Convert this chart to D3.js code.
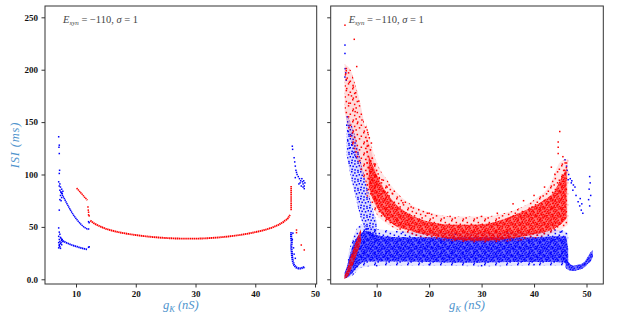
<!DOCTYPE html>
<html>
  <head>
    <meta charset="utf-8">
    <title>ISI vs gK</title>
    <script src="https://d3js.org/d3.v7.min.js"></script>
    <style>
      body { margin: 0; background: white; }
      svg { display: block; }
      .tick text { font-family: "Liberation Serif", serif; font-weight: bold; font-size: 9px; fill: #111; }
      .axisLabel { font-family: "Liberation Serif", serif; font-style: italic; font-size: 12.5px; fill: #4f94cd; }
      .note { font-family: "Liberation Serif", serif; font-size: 10.5px; fill: #444; }
    </style>
  </head>
  <body>
    <svg id="chart" width="620" height="323"></svg>
    <script>
      // ---- data ----
      const xTicks = [10, 20, 30, 40, 50];
      const yTicks = [0, 50, 100, 150, 200, 250];
      const yTickLabels = ["0.0", "50", "100", "150", "200", "250"];
      const noteText = ["E", "syn", " = \u2212110, ", "\u03c3", " = 1"];

      // left panel: curves [gK, ISI]
      const leftBlueUpper = [[7.4, 84], [7.9, 78.5], [8.5, 72], [9, 66.8], [9.5, 62], [10, 58], [10.5, 54.5], [11, 51.5], [11.5, 49.2], [12, 47.5]];
      const leftBlueLower = [[7.5, 38], [8, 36], [8.5, 34.6], [9, 33.4], [9.5, 32.3], [10, 31.4], [10.5, 30.5], [11, 29.7], [11.5, 29], [11.9, 28.4]];
      const leftRedShort = [[10.1, 87], [10.5, 84.5], [11, 81.3], [11.5, 78], [11.9, 75.5]];
      const leftRedMain = [[12.4, 56], [13, 53.5], [14, 50.5], [15, 48.2], [16, 46.5], [18, 44], [20, 42.2], [22, 40.8], [24, 39.8], [26, 39.1], [28, 38.8], [30, 38.8], [32, 39.2], [34, 40], [36, 41.2], [38, 42.8], [40, 45], [42, 47.8], [43, 49.8], [44, 52.3], [45, 56], [45.5, 58.5], [45.8, 61.5]];
      const leftRedVertical = [[46.0, 66], [46.0, 89]];
      const leftBlueDrop = [[46.0, 45], [46.0, 40], [46.1, 35], [46.0, 31], [46.1, 27], [46.15, 22], [46.3, 17], [46.5, 13.5], [46.8, 11.5], [47.2, 10.5], [47.6, 10.5], [48, 11], [48.3, 12]];
      // left panel: loose points
      const leftBluePoints = [[7.1, 136], [7.2, 128], [7.15, 126], [7.2, 120], [7.25, 104], [7.2, 101], [7.1, 93], [7.3, 91], [7.2, 89], [7.4, 88], [7.3, 85], [7.6, 86], [7.5, 83], [7.7, 82], [7.4, 80], [7.8, 84], [7.6, 78], [7.3, 76], [7.5, 75], [7.2, 66], [7.1, 49], [7.2, 45], [7.3, 43], [7.1, 41], [7.4, 40], [7.2, 38], [7.5, 39], [7.3, 36], [7.6, 37], [7.1, 35], [7.4, 34], [7.2, 33], [7.5, 35], [7.3, 31], [7.1, 30], [7.7, 38], [7.8, 36], [7.6, 33], [7.4, 29.5], [7.2, 32], [12.1, 48], [12.1, 55], [12.2, 54], [12.1, 30.5], [12.2, 31],
        [46.2, 127], [46.25, 124], [46.5, 116], [46.6, 112], [46.7, 108], [46.8, 104], [46.9, 102], [47.0, 100], [47.2, 98], [47.4, 96], [47.5, 92], [47.6, 94], [47.8, 96], [47.9, 93], [48.0, 91], [48.1, 94], [48.2, 89], [48.3, 92], [48.0, 88], [48.2, 86.5], [47.7, 89], [47.3, 91], [46.7, 97], [46.3, 44], [46.2, 38], [46.4, 30], [46.5, 24], [46.7, 20]];
      const leftRedPoints = [[12.0, 69], [12.05, 66], [12.1, 64], [12.1, 61.5], [12.2, 60.5], [46.9, 47], [46.9, 44.5], [47.7, 32.7], [48.2, 28]];

      // right panel: clouds as x with lower / upper edge
      const blueHaloX = [4.5, 5.5, 7, 10, 20, 30, 40, 45, 46.5];
      const blueHaloLo = [1, 4, 11, 13, 13, 12.5, 13, 13, 14];
      const blueHaloHi = [22, 40, 52, 48, 45, 45, 45, 47, 44];
      const blueBandX = [3.9, 4.5, 5.0, 5.5, 6.0, 7.0, 8.0, 10, 15, 20, 25, 30, 35, 40, 44, 46.0, 46.5];
      const blueBandLo = [1, 2, 4, 7, 10, 15, 17, 17, 17, 16.5, 16, 16, 16.5, 16.5, 16.5, 16, 16];
      const blueBandHi = [6, 15, 25, 33, 38, 44, 46, 42, 40, 40, 40, 40, 40, 40, 41, 41, 28];
      const blueCloudX = [4.3, 5, 6, 7, 8, 9, 10];
      const blueCloudLo = [118, 100, 78, 58, 46, 40, 38];
      const blueCloudHi = [156, 150, 135, 112, 92, 72, 55];
      const blueDipX = [46.0, 46.5, 47.0, 47.5, 48.5, 49.5, 50.3, 51.0, 51.2];
      const blueDipLo = [11, 9, 8, 8, 9, 11, 15, 19, 22];
      const blueDipHi = [20, 17, 14, 13, 14, 16, 22, 27, 28];
      const redTopX = [3.9, 5, 6, 7, 8, 9, 10];
      const redTopLo = [160, 135, 118, 103, 92, 80, 70];
      const redTopHi = [205, 200, 185, 165, 140, 122, 104];
      const redHaloX = [8, 9, 10, 12, 14, 17, 20, 25, 30, 35, 40, 43, 45, 46.5];
      const redHaloLo = [80, 72, 62, 53, 47, 42, 39, 36, 35, 36, 39, 43, 47, 52];
      const redHaloHi = [150, 128, 112, 95, 82, 70, 64, 60, 60, 64, 76, 90, 112, 115];
      const redBandX = [8.5, 9, 10, 11, 12, 13, 14, 16, 18, 20, 22, 25, 28, 31, 34, 37, 40, 42, 44, 45, 46.2];
      const redBandLo = [88, 80, 69, 62, 57, 53, 50, 47, 44, 42, 40, 38, 37, 37, 38, 40, 43, 45, 49, 52, 58];
      const redBandHi = [118, 112, 100, 90, 82, 75, 70, 63, 58, 55, 53, 52, 52, 53, 57, 63, 70, 76, 85, 95, 106];
      const redDiagX = [3.8, 4.5, 5.0, 5.5, 6.0, 6.5, 7.0];
      const redDiagLo = [0.5, 3, 8, 14, 21, 28, 35];
      const redDiagHi = [3, 12, 21, 28, 35, 42, 48];
      // right panel: loose points
      const rightBluePoints = [[3.96, 223.5], [3.96, 215.5], [4.0, 201], [4.1, 197], [3.95, 193], [4.2, 190], [4.4, 155], [4.3, 147], [4.6, 141], [5.0, 138], [4.5, 132], [5.3, 128], [4.8, 125], [5.6, 121], [6.0, 117],
        [45.9, 114], [46.2, 108], [46.3, 104], [46.6, 100], [46.9, 96], [47.2, 94], [47.5, 90], [47.8, 88], [47.4, 85], [48.0, 80], [48.4, 74], [48.7, 70], [49, 66], [49.3, 63], [48.8, 77], [49.1, 72], [50.6, 98], [50.7, 92], [50.5, 86], [50.8, 80], [50.4, 76], [50.6, 70], [46, 101], [46.5, 95], [47.1, 92],
        [44, 47], [45, 45], [30, 13], [20, 14], [10, 13], [40, 14], [35, 44], [25, 43], [15, 45], [8, 48]];
      const rightRedPoints = [[3.96, 242.5], [5.73, 229], [6.2, 203], [4.2, 199], [4.1, 196], [4.4, 192], [4.8, 188], [5.5, 185], [4.3, 182], [6.0, 178], [5.2, 175], [6.6, 170], [4.7, 168], [5.9, 160], [7.2, 152], [6.4, 150], [7.9, 145], [8.3, 140], [8.6, 135], [9.0, 130], [8.2, 127],
        [9.5, 110], [10.5, 97], [11, 95], [12, 88], [13, 82], [15, 73], [17, 68], [20, 63], [24, 60], [30, 60], [33, 63], [36, 72], [38, 75], [40, 80], [42, 88], [43.3, 107], [44, 100], [44.9, 141], [44.6, 131], [44.6, 126], [44.6, 120], [45.5, 117], [46.2, 111], [45.8, 104]];

      // ---- layout ----
      const svg = d3.select("#chart");
      const plotTop = 6, plotBottom = 284;
      const y = d3.scaleLinear().domain([-4.5, 260.8]).range([plotBottom, plotTop]);
      const xL = d3.scaleLinear().domain([4.81, 50.28]).range([45, 316.7]);
      const xR = d3.scaleLinear().domain([1.24, 53.2]).range([330.7, 603.3]);

      // dot textures for the clouds
      const defs = svg.append("defs");
      function dotPattern(id, color, size, pts) {
        const p = defs.append("pattern")
          .attr("id", id)
          .attr("patternUnits", "userSpaceOnUse")
          .attr("width", size)
          .attr("height", size);
        pts.forEach(function(d) {
          p.append("rect")
            .attr("x", d[0]).attr("y", d[1])
            .attr("width", 1.5).attr("height", 1.5)
            .attr("fill", color);
        });
      }
      const denseDots = [[0, 0], [2.2, 0.6], [4.1, 1.4], [0.8, 2.3], [3, 2.9], [5.4, 3.6], [1.6, 4.6], [4.2, 5.2], [6.2, 0.2], [6.6, 5.8], [0.2, 6.5], [2.8, 7], [5.2, 7.3]];
      const midDots = [[0, 0], [3.1, 1.2], [6.3, 0.4], [1.4, 3.6], [4.8, 4.1], [7.6, 3], [0.4, 6.6], [3.3, 7.2], [6.2, 7.8]];
      const sparseDots = [[0, 0], [4.6, 1.8], [1.9, 4.7], [6.8, 6.1], [3.4, 8.2], [8.6, 3.5], [0.6, 9.4]];
      dotPattern("blueDense", "#0000ff", 8, denseDots);
      dotPattern("redDense", "#ff0000", 8, denseDots);
      dotPattern("blueMid", "#0000ff", 9, midDots);
      dotPattern("blueSparse", "#0000ff", 11, sparseDots);
      dotPattern("redSparse", "#ff0000", 11, sparseDots);

      function drawPanel(x, showYLabels) {
        const g = svg.append("g");
        // ticks
        g.append("g")
          .attr("class", "tick")
          .attr("transform", "translate(0," + plotBottom + ")")
          .call(d3.axisBottom(x).tickValues(xTicks).tickSize(3.5).tickPadding(3).tickFormat(d3.format("d")))
          .call(function(a) { a.select(".domain").remove(); a.selectAll("line").attr("stroke", "#333"); });
        g.append("g")
          .attr("class", "tick")
          .attr("transform", "translate(" + x.range()[0] + ",0)")
          .call(d3.axisLeft(y).tickValues(yTicks).tickSize(3.5).tickPadding(3.5)
            .tickFormat(function(d, i) { return showYLabels ? yTickLabels[i] : ""; }))
          .call(function(a) { a.select(".domain").remove(); a.selectAll("line").attr("stroke", "#333"); });
        // note
        const note = g.append("text")
          .attr("class", "note")
          .attr("x", x.range()[0] + 18)
          .attr("y", 23);
        note.append("tspan").style("font-style", "italic").text(noteText[0]);
        note.append("tspan").style("font-style", "italic").style("font-size", "7px").attr("dy", 2).text(noteText[1]);
        note.append("tspan").attr("dy", -2).text(noteText[2]);
        note.append("tspan").style("font-style", "italic").text(noteText[3]);
        note.append("tspan").text(noteText[4]);
        // x label
        const xl = g.append("text")
          .attr("class", "axisLabel")
          .attr("text-anchor", "middle")
          .attr("x", (x.range()[0] + x.range()[1]) / 2)
          .attr("y", 309);
        xl.append("tspan").text("g");
        xl.append("tspan").style("font-size", "8.5px").attr("dy", 2.5).text("K");
        xl.append("tspan").attr("dy", -2.5).text("  (nS)");
        return g;
      }
      const left = drawPanel(xL, true);
      const right = drawPanel(xR, false);

      svg.append("text")
        .attr("class", "axisLabel")
        .attr("text-anchor", "middle")
        .style("letter-spacing", "0.8px")
        .attr("transform", "translate(19," + (plotTop + plotBottom) / 2 + ") rotate(-90)")
        .text("ISI  (ms)");

      // ---- left panel marks ----
      const lineL = d3.line().x(function(d) { return xL(d[0]); }).y(function(d) { return y(d[1]); }).curve(d3.curveMonotoneX);
      const lineLv = d3.line().x(function(d) { return xL(d[0]); }).y(function(d) { return y(d[1]); });
      [[leftBlueUpper, "#0000ff", lineL, 1.5], [leftBlueLower, "#0000ff", lineL, 1.8], [leftRedShort, "#ff0000", lineL, 1.5],
       [leftRedMain, "#ff0000", lineL, 1.9], [leftRedVertical, "#ff0000", lineLv, 1.6], [leftBlueDrop, "#0000ff", lineLv, 2.2]]
        .forEach(function(c) {
          left.append("path")
            .attr("d", c[2](c[0]))
            .attr("fill", "none")
            .attr("stroke", c[1])
            .attr("stroke-width", c[3])
            .attr("stroke-dasharray", "1.4 0.5");
        });
      function dots(g, x, data, color, size) {
        g.append("g").selectAll("rect")
          .data(data)
          .enter().append("rect")
            .attr("x", function(d) { return x(d[0]) - size / 2; })
            .attr("y", function(d) { return y(d[1]) - size / 2; })
            .attr("width", size)
            .attr("height", size)
            .attr("fill", color);
      }
      dots(left, xL, leftBluePoints, "#0000ff", 1.5);
      dots(left, xL, leftRedPoints, "#ff0000", 1.5);

      // ---- right panel marks ----
      function band(xs, lo, hi, fill, base, opacity) {
        const rows = xs.map(function(d, i) { return [d, lo[i], hi[i]]; });
        const area = d3.area()
          .x(function(d) { return xR(d[0]); })
          .y0(function(d) { return y(d[1]); })
          .y1(function(d) { return y(d[2]); })
          .curve(d3.curveMonotoneX);
        right.append("path").attr("d", area(rows)).attr("fill", base).attr("fill-opacity", opacity);
        right.append("path").attr("d", area(rows)).attr("fill", "url(#" + fill + ")");
      }
      band(blueCloudX, blueCloudLo, blueCloudHi, "blueMid", "#0000ff", 0.15);
      band(blueHaloX, blueHaloLo, blueHaloHi, "blueSparse", "#0000ff", 0.1);
      band(blueBandX, blueBandLo, blueBandHi, "blueDense", "#0000ff", 0.55);
      band(blueDipX, blueDipLo, blueDipHi, "blueDense", "#0000ff", 0.55);
      dots(right, xR, rightBluePoints, "#0000ff", 1.5);
      band(redTopX, redTopLo, redTopHi, "redSparse", "#ff0000", 0.14);
      band(redHaloX, redHaloLo, redHaloHi, "redSparse", "#ff0000", 0.1);
      band(redBandX, redBandLo, redBandHi, "redDense", "#ff0000", 0.5);
      band(redDiagX, redDiagLo, redDiagHi, "redDense", "#ff0000", 0.55);
      dots(right, xR, rightRedPoints, "#ff0000", 1.5);

      // frames
      [xL, xR].forEach(function(x) {
        svg.append("rect")
          .attr("x", x.range()[0])
          .attr("y", plotTop)
          .attr("width", x.range()[1] - x.range()[0])
          .attr("height", plotBottom - plotTop)
          .attr("fill", "none")
          .attr("stroke", "#333")
          .attr("stroke-width", 1);
      });
    </script>
  </body>
</html>
